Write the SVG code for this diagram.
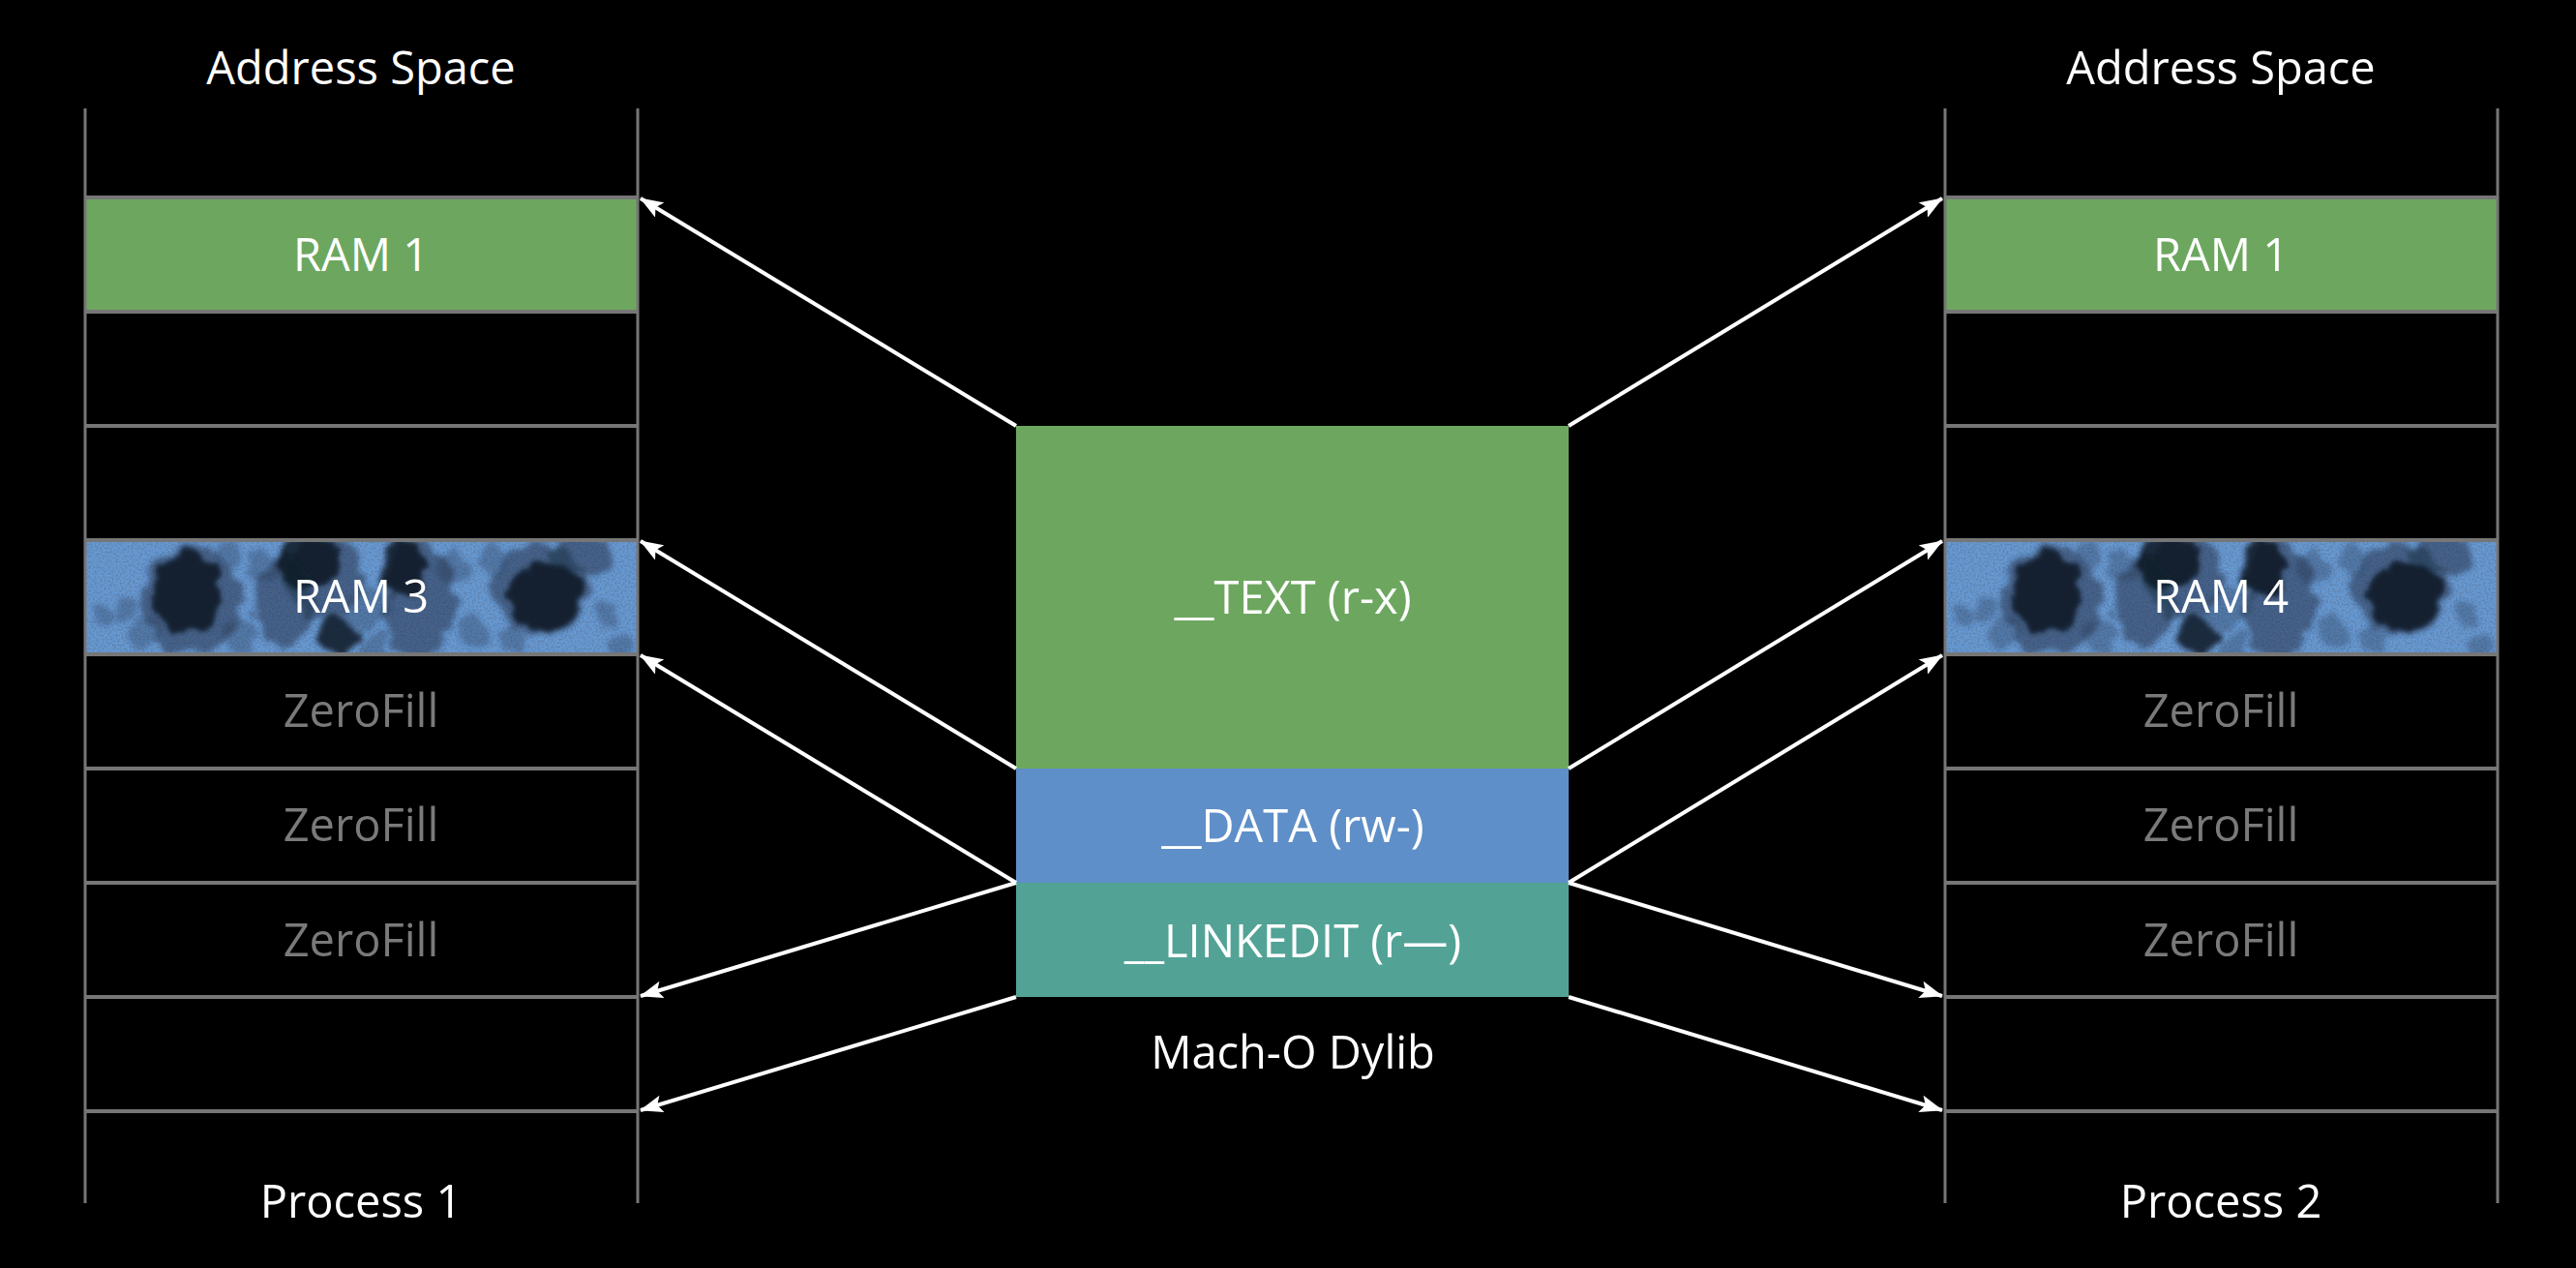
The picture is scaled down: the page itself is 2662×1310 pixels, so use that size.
<svg xmlns="http://www.w3.org/2000/svg" xmlns:xlink="http://www.w3.org/1999/xlink" width="2662" height="1310" viewBox="0 0 2662 1310">
<style>
.lbl { font-family: "Open Sans", "Noto Sans", "DejaVu Sans", sans-serif; font-size: 47px; fill: #ffffff; text-anchor: middle; }
.zf { fill: #7a7a7a; }
.vline { stroke: #767676; stroke-width: 3; fill: none; }
.hline { stroke: #767676; stroke-width: 4; fill: none; }
.arrow { stroke: #ffffff; stroke-width: 4; fill: none; marker-end: url(#ah); }
.green { fill: #6da75f; }
.stainbase { fill: #679ad4; }
.dk { fill: #111923; opacity: 0.85; }
.md { fill: #1e2b40; opacity: 0.5; }
.lt { fill: #2a3d5c; opacity: 0.35; }
</style>
<defs>
  <marker id="ah" viewBox="0 0 24 18" refX="23" refY="9" markerWidth="24" markerHeight="18" markerUnits="userSpaceOnUse" orient="auto">
    <path d="M0,0 L24,9 L0,18 L5,9 z" fill="#ffffff"/>
  </marker>
  <filter id="rough" x="-20%" y="-20%" width="140%" height="140%">
    <feTurbulence type="fractalNoise" baseFrequency="0.05" numOctaves="4" seed="7" result="t"/>
    <feDisplacementMap in="SourceGraphic" in2="t" scale="22" xChannelSelector="R" yChannelSelector="G" result="d"/>
    <feGaussianBlur in="d" stdDeviation="2.5"/>
  </filter>
  <filter id="grain" x="0" y="0" width="100%" height="100%">
    <feTurbulence type="fractalNoise" baseFrequency="0.5" numOctaves="2" seed="3" result="n"/>
    <feColorMatrix in="n" type="matrix" values="0 0 0 0 0.1  0 0 0 0 0.15  0 0 0 0 0.25  0 0 0 -3 1.8"/>
    <feComposite operator="in" in2="SourceGraphic"/>
  </filter>
  <g id="stain">
    <g filter="url(#rough)">
      <circle class="lt" cx="20" cy="75" r="9"/>
      <circle class="lt" cx="42" cy="70" r="12"/>
      <circle class="lt" cx="60" cy="95" r="16"/>
      <circle class="lt" cx="150" cy="15" r="12"/>
      <circle class="lt" cx="160" cy="100" r="18"/>
      <circle class="lt" cx="185" cy="30" r="16"/>
      <circle class="lt" cx="292" cy="70" r="22"/>
      <circle class="lt" cx="300" cy="112" r="16"/>
      <circle class="lt" cx="380" cy="30" r="16"/>
      <circle class="lt" cx="400" cy="95" r="18"/>
      <circle class="lt" cx="420" cy="20" r="14"/>
      <circle class="lt" cx="440" cy="104" r="14"/>
      <circle class="lt" cx="540" cy="80" r="14"/>
      <circle class="lt" cx="555" cy="108" r="12"/>
      <ellipse class="md" cx="110" cy="62" rx="52" ry="56"/>
      <ellipse class="md" cx="205" cy="62" rx="30" ry="46"/>
      <ellipse class="md" cx="248" cy="40" rx="40" ry="42"/>
      <ellipse class="md" cx="345" cy="62" rx="38" ry="60"/>
      <ellipse class="md" cx="470" cy="50" rx="50" ry="48"/>
      <ellipse class="md" cx="512" cy="15" rx="34" ry="20"/>
      <ellipse class="dk" cx="105" cy="55" rx="36" ry="42"/>
      <ellipse class="dk" cx="232" cy="20" rx="32" ry="28"/>
      <ellipse class="dk" cx="262" cy="98" rx="22" ry="20"/>
      <ellipse class="dk" cx="328" cy="30" rx="22" ry="32"/>
      <ellipse class="dk" cx="475" cy="58" rx="38" ry="34"/>
    </g>
  </g>
  <clipPath id="clipL"><rect x="88" y="558" width="571" height="118"/></clipPath>
  <clipPath id="clipR"><rect x="2010" y="558" width="571" height="118"/></clipPath>
</defs>
<rect x="0" y="0" width="2662" height="1310" fill="#000000"/>

<g id="process1">
  <text class="lbl" x="373" y="87">Address Space</text>
  <g id="p1-ram1"><rect class="green" x="88" y="204" width="571" height="118"/><text class="lbl" x="373" y="280">RAM 1</text></g>
  <g id="p1-ram3">
    <g clip-path="url(#clipL)">
      <rect class="stainbase" x="88" y="558" width="571" height="118"/>
      <rect x="88" y="558" width="571" height="118" fill="#000" filter="url(#grain)" opacity="0.5"/>
      <use xlink:href="#stain" transform="translate(88,558)"/>
    </g>
    <text class="lbl" x="373" y="633">RAM 3</text>
  </g>
  <g id="p1-zf1"><text class="lbl zf" x="373" y="751">ZeroFill</text></g>
  <g id="p1-zf2"><text class="lbl zf" x="373" y="869">ZeroFill</text></g>
  <g id="p1-zf3"><text class="lbl zf" x="373" y="988">ZeroFill</text></g>
  <line class="vline" x1="88" y1="112" x2="88" y2="1243"/>
  <line class="vline" x1="659" y1="112" x2="659" y2="1243"/>
  <path class="hline" d="M88,204H659M88,322H659M88,440H659M88,558H659M88,676H659M88,794H659M88,912H659M88,1030H659M88,1148H659"/>
  <text class="lbl" x="373" y="1258">Process 1</text>
</g>

<g id="dylib">
  <g id="seg-text"><rect x="1050" y="440" width="571" height="354" fill="#6da75f"/><text class="lbl" x="1336" y="634">__TEXT (r-x)</text></g>
  <g id="seg-data"><rect x="1050" y="794" width="571" height="118" fill="#5f8fc8"/><text class="lbl" x="1336" y="870">__DATA (rw-)</text></g>
  <g id="seg-linkedit"><rect x="1050" y="912" width="571" height="118" fill="#52a396"/><text class="lbl" x="1336" y="989">__LINKEDIT (r—)</text></g>
  <text class="lbl" x="1336" y="1104">Mach-O Dylib</text>
</g>

<g id="process2">
  <text class="lbl" x="2295" y="87">Address Space</text>
  <g id="p2-ram1"><rect class="green" x="2010" y="204" width="571" height="118"/><text class="lbl" x="2295" y="280">RAM 1</text></g>
  <g id="p2-ram4">
    <g clip-path="url(#clipR)">
      <rect class="stainbase" x="2010" y="558" width="571" height="118"/>
      <rect x="2010" y="558" width="571" height="118" fill="#000" filter="url(#grain)" opacity="0.5"/>
      <use xlink:href="#stain" transform="translate(2010,558)"/>
    </g>
    <text class="lbl" x="2295" y="633">RAM 4</text>
  </g>
  <g id="p2-zf1"><text class="lbl zf" x="2295" y="751">ZeroFill</text></g>
  <g id="p2-zf2"><text class="lbl zf" x="2295" y="869">ZeroFill</text></g>
  <g id="p2-zf3"><text class="lbl zf" x="2295" y="988">ZeroFill</text></g>
  <line class="vline" x1="2010" y1="112" x2="2010" y2="1243"/>
  <line class="vline" x1="2581" y1="112" x2="2581" y2="1243"/>
  <path class="hline" d="M2010,204H2581M2010,322H2581M2010,440H2581M2010,558H2581M2010,676H2581M2010,794H2581M2010,912H2581M2010,1030H2581M2010,1148H2581"/>
  <text class="lbl" x="2295" y="1258">Process 2</text>
</g>

<g id="connectors">
  <line class="arrow" x1="1050" y1="440" x2="662" y2="205"/>
  <line class="arrow" x1="1050" y1="794" x2="662" y2="559"/>
  <line class="arrow" x1="1050" y1="912" x2="662" y2="677"/>
  <line class="arrow" x1="1050" y1="912" x2="662" y2="1029"/>
  <line class="arrow" x1="1050" y1="1030" x2="662" y2="1147"/>
  <line class="arrow" x1="1621" y1="440" x2="2007" y2="205"/>
  <line class="arrow" x1="1621" y1="794" x2="2007" y2="559"/>
  <line class="arrow" x1="1621" y1="912" x2="2007" y2="677"/>
  <line class="arrow" x1="1621" y1="912" x2="2007" y2="1029"/>
  <line class="arrow" x1="1621" y1="1030" x2="2007" y2="1147"/>
</g>
</svg>
